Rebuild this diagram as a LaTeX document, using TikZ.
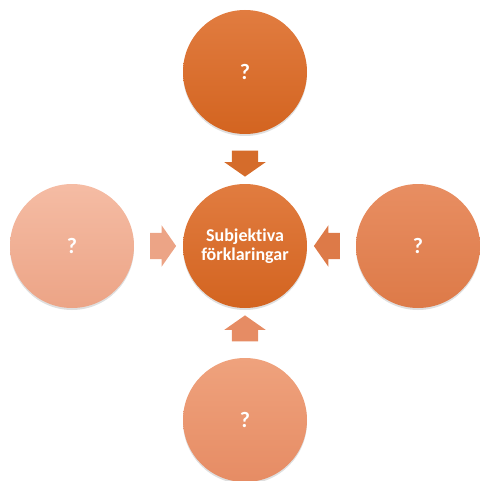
\documentclass[tikz,border=0pt]{standalone}
\usepackage{fontspec}
\setmainfont{Carlito}[Ligatures=NoCommon,RawFeature=-liga]
\definecolor{deepOrangeTop}{RGB}{225, 124, 64}
\definecolor{deepOrangeBot}{RGB}{211, 100, 32}
\definecolor{midOrangeTop}{RGB}{232, 142, 98}
\definecolor{midOrangeBot}{RGB}{221, 122, 72}
\definecolor{softOrangeTop}{RGB}{239, 162, 125}
\definecolor{softOrangeBot}{RGB}{230, 140, 100}
\definecolor{paleSalmonTop}{RGB}{245, 188, 164}
\definecolor{paleSalmonBot}{RGB}{236, 164, 134}
\usetikzlibrary{shapes.arrows,shadows,calc}

\begin{document}
\begin{tikzpicture}[x=1pt,y=-1pt,
                bubble/.style={circle,minimum size=124pt,inner sep=0pt,
                              font=\bfseries\fontsize{18}{19}\selectfont,align=center,text=white,
                              drop shadow={opacity=0.25,shadow xshift=0pt,shadow yshift=-2pt}},
                query/.style={bubble,font=\bfseries\fontsize{22}{24}\selectfont},
                pointer/.style={single arrow,minimum height=26pt,inner xsep=0pt,inner ysep=13pt,
                               single arrow head extend=7.5pt,single arrow tip angle=110}
            ]
                \useasboundingbox (0,0) rectangle (479,481);
                % circles
                \node[bubble,top color=deepOrangeTop,bottom color=deepOrangeBot] (center) at (245,246) {Subjektiva\\förklaringar};
                \node[query,top color=deepOrangeTop,bottom color=deepOrangeBot] (top) at (245,72) {?};
                \node[query,top color=paleSalmonTop,bottom color=paleSalmonBot] (left) at (72,246) {?};
                \node[query,top color=midOrangeTop,bottom color=midOrangeBot] (right) at (418,246) {?};
                \node[query,top color=softOrangeTop,bottom color=softOrangeBot] (bottom) at (245,420) {?};
                % arrows towards the center
                \node[pointer,fill=deepOrangeBot!95!white,rotate=-90] (toparrow) at ($(top.south)!0.5!(center.north)$) {};
                \node[pointer,fill=paleSalmonBot,rotate=0] (leftarrow) at ($(left.east)!0.5!(center.west)$) {};
                \node[pointer,fill=midOrangeBot,rotate=180] (rightarrow) at ($(right.west)!0.5!(center.east)$) {};
                \node[pointer,fill=softOrangeBot,rotate=90] (bottomarrow) at ($(bottom.north)!0.5!(center.south)$) {};
            \end{tikzpicture}
\end{document}
